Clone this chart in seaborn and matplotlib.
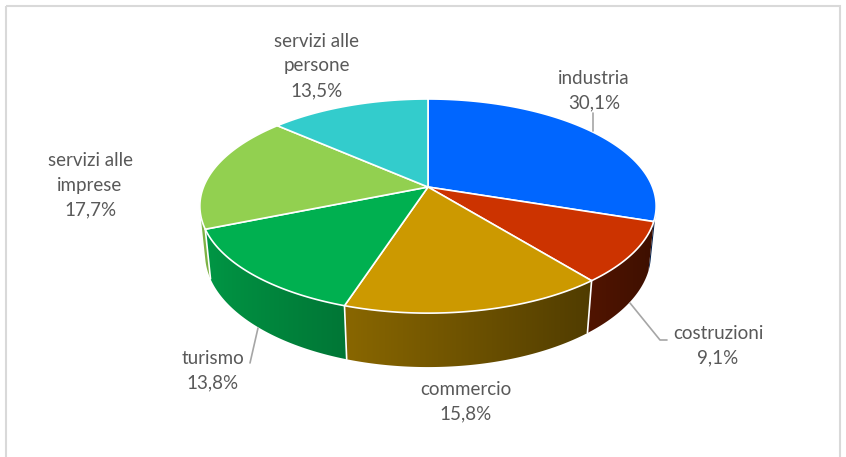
import numpy as np
import matplotlib
matplotlib.use("Agg")
import matplotlib.pyplot as plt
from matplotlib.patches import Polygon, Rectangle
from matplotlib.colors import to_rgb
import seaborn as sns

# ---- data -------------------------------------------------------------
categories = ["industria", "costruzioni", "commercio", "turismo",
              "servizi alle imprese", "servizi alle persone"]
label_lines = ["industria", "costruzioni", "commercio", "turismo",
               "servizi alle\nimprese", "servizi alle\npersone"]
shares = [30.1, 9.1, 15.8, 13.8, 17.7, 13.5]
colors = ["#0066FF", "#CC3300", "#CC9900", "#00B050", "#92D050", "#33CCCC"]

# ---- style ------------------------------------------------------------
sns.set_theme(style="white")
plt.rcParams["font.family"] = ["Lato", "DejaVu Sans"]
TEXT = "#595959"
LEADER = "#A6A6A6"

W, H = 846, 457
fig = plt.figure(figsize=(W / 100, H / 100), dpi=100)
ax = fig.add_axes([0, 0, 1, 1])
ax.set_xlim(0, W)
ax.set_ylim(H, 0)
ax.axis("off")

# ---- simple perspective camera for a tilted disc ------------------------
CX, CY = 428, 187          # screen position of the pie centre
SCALE = 1118
PHI = np.deg2rad(27.5)     # viewing elevation
DIST = 4.98                # camera distance (disc radius = 1)
THICK = 0.243              # disc thickness

cam = np.array([0.0, -DIST * np.cos(PHI), DIST * np.sin(PHI)])
fwd = np.array([0.0, np.cos(PHI), -np.sin(PHI)])
right = np.array([1.0, 0.0, 0.0])
up = np.array([0.0, np.sin(PHI), np.cos(PHI)])


def project(x, y, z):
    p = np.stack([np.atleast_1d(x), np.atleast_1d(y), np.atleast_1d(z)], axis=-1)
    q = p - cam
    depth = q @ fwd
    sx = (q @ right) / depth
    sy = (q @ up) / depth
    return np.column_stack([CX + SCALE * sx, CY - SCALE * sy])


def facing(theta):
    # does the outer wall at angle theta face the camera?
    return -1 - DIST * np.cos(PHI) * np.sin(theta) > 0


def shade(color, theta):
    # light comes from the left: front-left walls are brighter
    f = 0.58 + 0.30 * (-np.cos(theta))
    return np.clip(np.array(to_rgb(color))[None, :] * np.atleast_1d(f)[:, None], 0, 1)


# slice boundaries, clockwise from 12 o'clock
fractions = np.array(shares) / np.sum(shares)
bounds = np.deg2rad(90 - 360 * np.concatenate([[0], np.cumsum(fractions)]))

# ---- side walls (gradient fill clipped to each wall) -----------------
for i, col in enumerate(colors):
    ts = np.linspace(bounds[i], bounds[i + 1], 400)
    ts = ts[facing(ts)]
    if ts.size < 2:
        continue
    top = project(np.cos(ts), np.sin(ts), np.zeros_like(ts))
    bot = project(np.cos(ts), np.sin(ts), np.full_like(ts, -THICK))
    wall = Polygon(np.vstack([top, bot[::-1]]), closed=True,
                   facecolor="none", edgecolor="none")
    ax.add_patch(wall)
    x0, x1 = min(top[:, 0].min(), bot[:, 0].min()) - 1, max(top[:, 0].max(), bot[:, 0].max()) + 1
    y0, y1 = top[:, 1].min() - 1, bot[:, 1].max() + 1
    xs = np.linspace(x0, x1, 300)
    order = np.argsort(top[:, 0])
    th = np.interp(xs, top[order, 0], ts[order])
    img = shade(col, th)[None, :, :]
    im = ax.imshow(img, extent=(x0, x1, y1, y0), aspect="auto",
                   interpolation="bilinear", zorder=1)
    im.set_clip_path(wall)

# restore the pixel frame after imshow
ax.set_xlim(0, W)
ax.set_ylim(H, 0)

# white seams on the wall where slices meet
for t in bounds[:-1]:
    if -1 - DIST * np.cos(PHI) * np.sin(t) > 0.5:
        seam = project([np.cos(t)] * 2, [np.sin(t)] * 2, [0, -THICK])
        ax.plot(seam[:, 0], seam[:, 1], color="white", lw=1.2, zorder=2)

# ---- top face ---------------------------------------------------------
ctr = project(0, 0, 0)
for i, col in enumerate(colors):
    ts = np.linspace(bounds[i], bounds[i + 1], 200)
    arc = project(np.cos(ts), np.sin(ts), np.zeros_like(ts))
    ax.add_patch(Polygon(np.vstack([ctr, arc]), closed=True,
                         facecolor=col, edgecolor="white", lw=1.2,
                         joinstyle="round", zorder=3))

# ---- labels -----------------------------------------------------------
label_pos = [(594, 91), (718, 346), (466, 402), (213, 371), (90, 185), (317, 66)]
for name, v, (lx, ly) in zip(label_lines, shares, label_pos):
    pct = f"{v:.1f}".replace(".", ",") + "%"
    ax.text(lx, ly, f"{name}\n{pct}", ha="center", va="center",
            fontsize=13.5, color=TEXT, linespacing=1.55, zorder=5)

# leader lines
leaders = [
    [(593, 113), (593, 131)],
    [(630, 303), (660, 340), (667, 340)],
    [(258, 328), (250, 363)],
]
for pts in leaders:
    pts = np.array(pts)
    ax.plot(pts[:, 0], pts[:, 1], color=LEADER, lw=1.2, zorder=4)

# chart frame
ax.add_patch(Rectangle((6, 6), 834, 460, fill=False, edgecolor="#D9D9D9",
                       lw=1.5, zorder=6))

fig.savefig("out.png", dpi=100)
